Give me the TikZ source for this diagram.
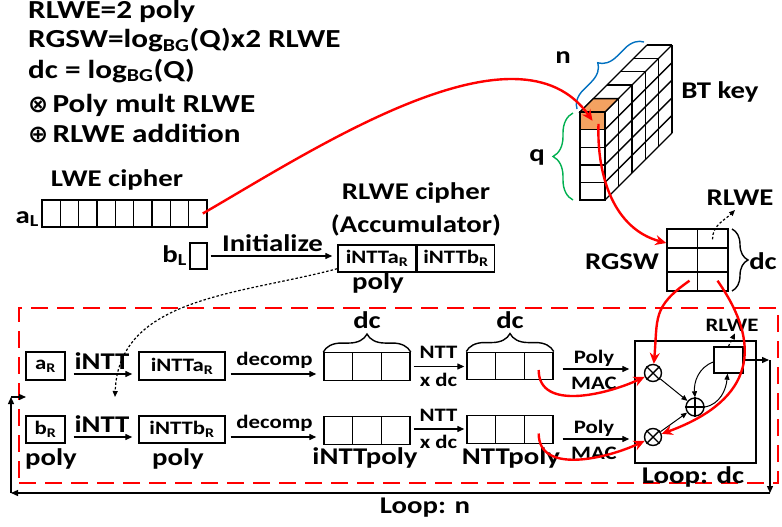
\documentclass[tikz,border=0pt]{standalone}
\usepackage{fontspec}
\setmainfont{Carlito}[FakeStretch=1.2]
\newfontfamily\symfont{DejaVu Sans}
\usetikzlibrary{arrows.meta,positioning,calc,decorations.pathreplacing}
\definecolor{btorange}{RGB}{244,162,97}
\definecolor{nblue}{RGB}{0,112,192}
\definecolor{qgreen}{RGB}{0,176,80}

\begin{document}
\begin{tikzpicture}[
	x=1pt, y=1pt,
	hdr/.style={ inner sep=0pt, anchor=base west, font=\fontsize{26}{28}\selectfont\bfseries },
	txt/.style={ inner sep=0pt, font=\fontsize{24}{26}\selectfont\bfseries },
	mid/.style={ inner sep=0pt, font=\fontsize{19}{21}\selectfont\bfseries },
	cell/.style={ draw, line width=1.4pt, inner sep=0pt, font=\fontsize{19}{21}\selectfont\bfseries },
	slot/.style={ cell, minimum width=28.67pt, minimum height=27.5pt },
	opr/.style={ circle, draw, line width=1.4pt, minimum size=17pt, inner sep=0pt },
	arr/.style={ line width=1.3pt, -{Triangle[length=7pt,width=6pt]} },
	thinarr/.style={ line width=1pt, -{Triangle[length=6pt,width=5pt]} },
	dotarr/.style={ dash pattern=on 2.5pt off 2pt, line width=1.2pt, -{Triangle[length=6pt,width=5pt]} },
	redarr/.style={ red, line width=2.4pt, -{Stealth[length=11pt,width=10pt]} },
	brc/.style={ decorate, decoration={brace, amplitude=#1}, line width=1.4pt },
	brc/.default=18pt
]
\useasboundingbox (0,0) rectangle (782,-527);

\node at (28,-19) (lg1) [hdr] {RLWE=2 poly};
\node at (28,-48) (lg2) [hdr] {RGSW=log\textsubscript{BG}(Q)x2 RLWE};
\node at (28,-78) (lg3) [hdr] {dc = log\textsubscript{BG}(Q)};
\node at (28,-112) (lg4) [hdr] {{\symfont\fontsize{24}{26}\selectfont ⊗}\,Poly mult RLWE};
\node at (28,-142) (lg5) [hdr] {{\symfont\fontsize{24}{26}\selectfont ⊕}\,RLWE addition};

% LWE input
\node at (117,-180) (lwel) [txt] {LWE cipher};
\foreach \i in {1,...,9}
	\node at (42+18.33*\i-9.17,-213.5) (aL\i) [cell, minimum width=18.33pt, minimum height=27pt] {};
\node at (39,-223) (aLl) [txt, anchor=base east] {a\textsubscript{L}};
\node at (198.5,-256) (bL) [cell, minimum width=17pt, minimum height=26pt] {};
\node at (187,-262) (bLl) [txt, anchor=base east] {b\textsubscript{L}};

% accumulator
\node at (416,-193) (accl1) [txt] {RLWE cipher};
\node at (416,-225) (accl2) [txt] {(Accumulator)};
\node at (377,-258.5) (acca) [cell, minimum width=78pt, minimum height=27pt] {iNTTa\textsubscript{R}};
\node (accb) [cell, right=0pt of acca, minimum width=77pt, minimum height=27pt] {iNTTb\textsubscript{R}};
\node at (378,-283) (accp) [txt] {poly};
\draw[arr, shorten <=3pt, shorten >=5pt] (bL.east) -- (bL.east -| acca.west) node[midway, above=4pt, txt] (ini) {Initialize};
\coordinate (dots) at (115,-397);
\draw[dotarr] ([yshift=4pt]acca.south west) to[out=195, in=88] (dots);

% BT key
\foreach \k in {1,...,5} \draw[line width=1.4pt] (580+13.4*\k,-112+13.4*\k) -- ++(25,0);
\draw[line width=1.4pt] (580,-112) -- (647,-45) (605,-112) -- (672,-45);
\foreach \k in {1,...,5} \draw[line width=1.4pt] (605+13.4*\k,-112+13.4*\k) -- ++(0,-88);
\foreach \j in {1,...,5} \draw[line width=1.4pt] (605,-112-17.6*\j) -- ++(67,67);
\draw[line width=1.4pt] (580,-129.6) rectangle (605,-200);
\foreach \j in {2,...,4} \draw[line width=1.4pt] (580,-112-17.6*\j) -- ++(25,0);
\filldraw[fill=btorange, line width=1.4pt] (580,-112) -- (605,-112) -- (618.4,-98.6) -- (593.4,-98.6) -- cycle;
\node at (592.5,-120.8) (btc) [draw, fill=btorange, line width=1.4pt, minimum width=25pt, minimum height=17.6pt, inner sep=0pt] {};
\draw[brc, nblue] (577,-109) -- (644,-42);
\node at (563,-58) (nl) [txt] {n};
\draw[brc=20pt, qgreen] (573,-200) -- (573,-113);
\node at (537,-157) (ql) [txt] {q};
\node at (720,-92) (btl) [txt] {BT key};

% RGSW
\node at (697.5,-260) (rg) [cell, minimum width=61pt, minimum height=62pt] {};
\draw[line width=1.4pt] (rg.north) -- (rg.south);
\draw[line width=1.4pt] ($(rg.north west)!0.31!(rg.south west)$) -- ($(rg.north east)!0.31!(rg.south east)$);
\draw[line width=1.4pt] ($(rg.north west)!0.69!(rg.south west)$) -- ($(rg.north east)!0.69!(rg.south east)$);
\node at (622,-262) (rgl) [txt] {RGSW};
\draw[brc=16pt] (732,-229) -- (732,-291);
\node at (763,-261) (dcl) [txt] {dc};
\node at (740,-198) (rlwel) [txt] {RLWE};
\draw[dotarr] ([xshift=15pt,yshift=-11pt]rg.north) to[out=90, in=225] ([xshift=-5pt,yshift=-4pt]rlwel.south);

% loop over n
\node at (398.5,-395.5) (lpn) [draw=red, dash pattern=on 17pt off 9pt, line width=1.4pt, minimum width=759pt, minimum height=175pt] {};
\node at (45.5,-366) (aR) [cell, minimum width=39pt, minimum height=28pt] {a\textsubscript{R}};
\node at (45.5,-429.5) (bR) [cell, minimum width=39pt, minimum height=27pt] {b\textsubscript{R}};
\node at (51,-459) (bRp) [txt] {poly};
\node at (182,-366) (ia) [cell, minimum width=86pt, minimum height=28pt] {iNTTa\textsubscript{R}};
\node at (182,-429.5) (ib) [cell, minimum width=86pt, minimum height=27pt] {iNTTb\textsubscript{R}};
\node at (178,-459) (ibp) [txt] {poly};
\foreach \i in {1,2,3} {
	\node at (309.67+28.67*\i,-366.5) (ipa\i) [slot] {};
	\node at (309.67+28.67*\i,-430.5) (ipb\i) [slot] {};
	\node at (452.67+28.67*\i,-366) (npa\i) [slot] {};
	\node at (452.67+28.67*\i,-429.5) (npb\i) [slot] {};
}
\node at (365,-458) (ipl) [txt] {iNTTpoly};
\node at (511,-458) (npl) [txt] {NTTpoly};
\draw[brc] (ipa1.north west) -- (ipa3.north east);
\node at (367,-320) (dc1) [txt] {dc};
\draw[brc] (npa1.north west) -- (npa3.north east);
\node at (510,-320) (dc2) [txt] {dc};

\draw[arr, shorten <=8pt, shorten >=6pt] ([yshift=-8pt]aR.east) -- ([yshift=-8pt]aR.east -| ia.west) node[midway, above=4pt, txt] (int1) {iNTT};
\draw[arr, shorten <=8pt, shorten >=6pt] ([yshift=-7.5pt]bR.east) -- ([yshift=-7.5pt]bR.east -| ib.west) node[midway, above=4pt, txt] (int2) {iNTT};
\draw[arr, shorten <=5pt, shorten >=7pt] ([yshift=-8pt]ia.east) -- ([yshift=-8pt]ia.east -| ipa1.west) node[midway, above=5pt, mid] (dcp1) {decomp};
\draw[arr, shorten <=5pt, shorten >=7pt] ([yshift=-7.5pt]ib.east) -- ([yshift=-7.5pt]ib.east -| ipb1.west) node[midway, above=5pt, mid] (dcp2) {decomp};
\draw[arr, shorten <=3pt, shorten >=2pt] (ipa3.east) -- (ipa3.east -| npa1.west) node[midway, above=7pt, mid] (ntt1) {NTT} node[midway, below=6pt, mid] (xdc1) {x dc};
\draw[arr, shorten <=3pt, shorten >=2pt] ([yshift=1.5pt]ipb3.east) -- ([yshift=1.5pt]ipb3.east -| npb1.west) node[midway, above=7pt, mid] (ntt2) {NTT} node[midway, below=6pt, mid] (xdc2) {x dc};

% loop over dc
\node at (695.5,-402) (lpdc) [cell, minimum width=121pt, minimum height=122pt] {};
\node at (693,-477) (lpdcl) [txt] {Loop: dc};
\draw[arr, shorten <=9pt, shorten >=5pt] ([yshift=-3pt]npa3.east) -- ([yshift=-3pt]npa3.east -| lpdc.west) node[midway, above=2pt, mid] (pm1) {Poly} node[midway, below=7pt, mid] (mac1) {MAC};
\draw[arr, shorten <=9pt, shorten >=5pt] ([yshift=-9.5pt]npb3.east) -- ([yshift=-9.5pt]npb3.east -| lpdc.west) node[midway, above=2pt, mid] (pm2) {Poly} node[midway, below=7pt, mid] (mac2) {MAC};
\node at (653,-373) (m1) [opr] {};
\node at (653,-437) (m2) [opr] {};
\node at (695,-407) (ad) [opr, minimum size=18pt] {};
\draw[line width=1.4pt] (m1.45) -- (m1.225) (m1.135) -- (m1.315);
\draw[line width=1.4pt] (m2.45) -- (m2.225) (m2.135) -- (m2.315);
\draw[line width=1.4pt] (ad.north) -- (ad.south) (ad.west) -- (ad.east);
\node at (728.5,-360) (rl) [cell, minimum width=29pt, minimum height=26pt] {};
\node at (732,-325) (rll) [mid] {RLWE};
\draw[dotarr] (rl.north) -- ([xshift=3pt,yshift=-2pt]rll.south);
\draw[thinarr] (m1) -- (ad);
\draw[thinarr] (m2) -- (ad);
\draw[thinarr] (ad.east) to[out=10, in=-95] ([xshift=-1pt]rl.south);
\draw[thinarr] ([yshift=-2pt]rl.west) to[out=200, in=95] (ad.north);

\coordinate (o1) at (770,-360);
\coordinate (o2) at (770,-493);
\coordinate (o3) at (11,-493);
\coordinate (o4) at (11,-397);
\coordinate (o5) at (26,-397);
\draw[arr, shorten >=1pt] (rl.east) -- (o1);
\draw[arr] (o1) -- (o2);
\draw[arr] (o2) -- (o3);
\draw[arr] (o3) -- (o4);
\draw[arr] (o4) -- (o5);
\node at (425,-508) (lpnl) [txt] {Loop: n};

% key flow
\draw[redarr] ([xshift=5pt]aL9.center) to[out=30, in=125, looseness=0.83] (btc.center);
\draw[redarr] ([xshift=6pt,yshift=-3pt]btc.center) to[out=-92, in=165] ([yshift=17pt]rg.west);
\draw[redarr] ([xshift=-8pt,yshift=11pt]rg.south) to[out=215, in=85, looseness=1.3] (m1);
\draw[redarr] ([xshift=20pt,yshift=11pt]rg.south) to[out=-55, in=20, looseness=1.4] (m2);
\draw[redarr] ([yshift=-4pt]npa3.center) to[out=-90, in=205] (m1);
\draw[redarr] ([yshift=-4pt]npb3.center) to[out=-90, in=205] (m2);

\end{tikzpicture}
\end{document}
